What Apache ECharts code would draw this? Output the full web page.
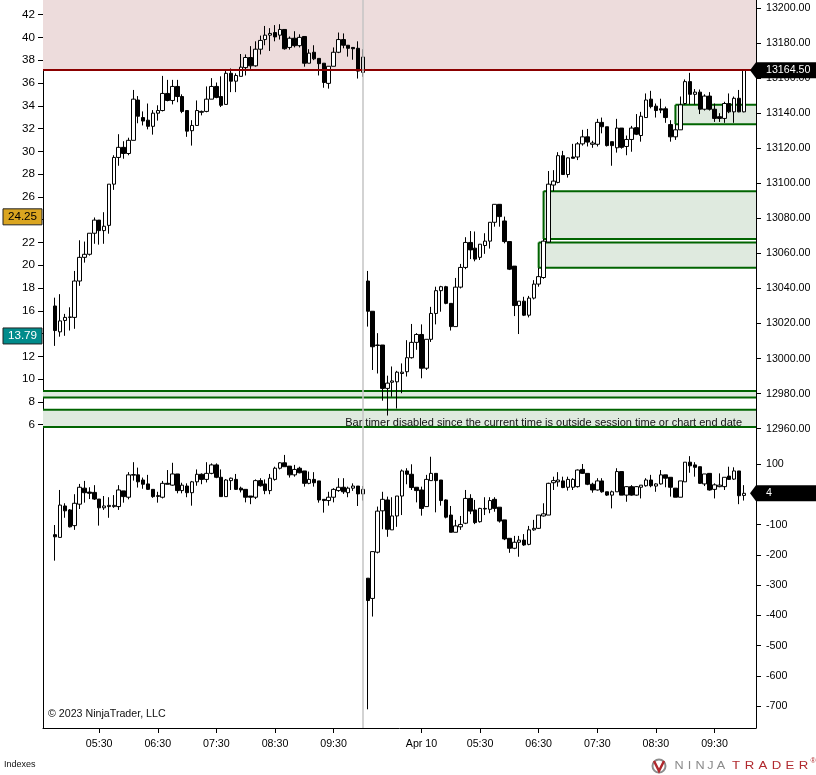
<!DOCTYPE html>
<html><head><meta charset="utf-8">
<script src="https://cdn.jsdelivr.net/npm/echarts@6.0.0/dist/echarts.min.js"></script>
<style>html,body{margin:0;padding:0;background:#fff}#chart{width:816px;height:775px}</style>
</head><body><div id="chart"></div>
<script>
// ---------- sessions (5-minute bars) ----------
const sessions = [
  {date: 'Apr 9', first: '04:45', last: '10:00'},
  {date: 'Apr 10', first: '03:35', last: '10:00'}
];
const xTickCats = ['Apr 9 05:30','Apr 9 06:30','Apr 9 07:30','Apr 9 08:30','Apr 9 09:30',
  'Apr 10 04:30','Apr 10 05:30','Apr 10 06:30','Apr 10 07:30','Apr 10 08:30','Apr 10 09:30'];
const xTickLabels = ['05:30','06:30','07:30','08:30','09:30','Apr 10','05:30','06:30','07:30','08:30','09:30'];
const sessionBreak = 'Apr 9 10:00';

// ---------- axis tick labels ----------
const priceTicks = [12960,12980,13000,13020,13040,13060,13080,13100,13120,13140,13160,13180,13200];
const indicatorTicks = [6,8,10,12,14,16,18,20,22,24,26,28,30,32,34,36,38,40,42];
const tickPanelTicks = [-700,-600,-500,-400,-300,-200,-100,0,100];

// ---------- price bars [open, high, low, close] ----------
const priceBarsApr9 = [
[13030.00,13034.75,13007.25,13016.00],[13015.25,13036.75,13012.50,13021.50],[13021.75,13025.50,13013.00,13023.50],[13023.50,13029.25,13016.00,13023.75],
[13023.50,13050.00,13017.00,13044.25],[13044.25,13067.50,13041.50,13057.75],[13057.75,13066.75,13054.75,13059.50],[13059.50,13071.50,13058.75,13071.50],
[13071.50,13080.50,13065.50,13079.00],[13079.00,13079.00,13065.00,13073.00],[13073.00,13083.50,13065.50,13075.50],[13076.00,13099.50,13071.25,13099.50],
[13099.50,13116.00,13096.25,13114.75],[13114.75,13128.00,13110.00,13120.50],[13120.50,13124.00,13114.00,13117.00],[13117.00,13126.00,13116.00,13124.50],
[13124.50,13153.25,13124.50,13148.00],[13147.50,13149.75,13134.25,13138.25],[13137.50,13141.00,13133.00,13135.50],[13136.00,13145.50,13130.75,13132.50],
[13132.50,13141.75,13127.75,13140.00],[13140.00,13144.50,13135.75,13141.50],[13141.50,13161.25,13141.00,13151.25],[13151.25,13159.00,13146.75,13147.25],
[13147.25,13159.00,13145.00,13155.25],[13155.25,13159.00,13146.25,13149.50],[13149.50,13150.75,13140.00,13141.00],[13141.50,13141.50,13126.50,13129.75],
[13130.00,13136.00,13121.50,13133.00],[13133.00,13147.25,13133.00,13141.50],[13140.50,13141.50,13138.75,13141.00],[13141.00,13155.25,13140.50,13148.00],
[13148.00,13160.00,13148.00,13155.25],[13155.25,13157.50,13148.50,13149.00],[13149.50,13161.00,13143.50,13144.50],[13145.00,13164.50,13145.00,13162.75],
[13162.75,13165.50,13152.00,13158.25],[13158.25,13162.75,13152.00,13161.50],[13161.00,13173.75,13161.00,13166.25],[13166.00,13173.50,13161.50,13171.75],
[13171.75,13178.25,13165.25,13167.00],[13167.00,13181.00,13166.50,13176.50],[13176.50,13184.25,13173.50,13181.50],[13182.00,13189.75,13178.75,13184.50],
[13184.50,13188.50,13175.50,13185.50],[13186.00,13190.25,13181.00,13183.50],[13184.50,13190.75,13182.00,13187.75],[13187.75,13187.75,13176.25,13176.75],
[13177.50,13183.75,13176.25,13182.75],[13182.75,13186.75,13177.50,13178.50],[13178.50,13185.00,13177.50,13183.25],[13183.75,13183.75,13166.50,13168.50],
[13168.50,13176.50,13168.50,13174.25],[13174.75,13178.75,13170.25,13171.00],[13171.25,13171.25,13161.50,13168.25],[13168.50,13168.50,13154.50,13157.50],
[13157.00,13166.75,13154.00,13166.75],[13166.75,13177.50,13166.75,13174.75],[13174.75,13186.00,13174.25,13182.00],[13182.00,13185.50,13177.00,13178.75],
[13178.75,13178.75,13172.25,13177.00],[13177.50,13177.50,13170.50,13176.75],[13177.00,13181.00,13159.75,13164.00],[13163.25,13176.50,13160.75,13172.00]
];
const priceBarsApr10 = [
[13044.25,13050.00,13018.25,13027.00],[13027.00,13027.00,12993.50,13006.75],[13007.50,13014.50,12991.50,13007.75],[13007.75,13007.75,12976.00,12983.00],
[12983.00,12990.25,12967.50,12986.00],[12986.50,12995.50,12978.25,12987.25],[12986.75,12993.00,12971.50,12992.25],[12991.50,12997.25,12980.25,12992.25],
[12992.50,13010.50,12989.75,13000.50],[13000.50,13019.75,13000.00,13009.25],[13009.25,13014.50,13005.00,13013.75],[13013.75,13019.50,12988.75,12994.50],
[12994.50,13011.00,12993.50,13011.00],[13011.00,13029.50,13009.50,13025.75],[13025.75,13041.00,13019.50,13038.75],[13038.75,13041.50,13026.75,13041.00],
[13041.00,13041.50,13031.00,13031.50],[13031.50,13031.50,13016.00,13018.25],[13018.25,13046.00,13018.25,13040.75],[13040.75,13054.00,13040.00,13052.00],
[13052.00,13069.25,13051.00,13066.25],[13066.25,13072.75,13056.75,13062.00],[13063.00,13072.50,13055.50,13056.75],[13057.75,13065.25,13056.25,13065.25],
[13064.50,13071.50,13059.75,13067.00],[13067.00,13077.75,13062.75,13077.75],[13077.75,13088.00,13075.25,13088.00],[13088.00,13088.00,13075.25,13081.00],
[13078.50,13081.00,13065.75,13066.75],[13066.75,13066.75,13050.50,13051.00],[13052.75,13052.75,13024.25,13030.25],[13030.25,13032.75,13014.00,13032.75],
[13032.75,13035.25,13024.25,13024.75],[13024.75,13035.75,13023.50,13034.50],[13034.50,13044.75,13033.75,13042.50],[13042.50,13051.75,13041.00,13046.75],
[13046.25,13068.25,13045.50,13067.00],[13066.50,13107.00,13066.25,13099.50],[13099.00,13107.50,13095.50,13101.25],[13100.50,13117.75,13100.00,13115.75],
[13115.75,13118.50,13104.75,13105.00],[13105.00,13114.75,13103.25,13114.50],[13115.00,13122.50,13114.25,13114.25],[13115.00,13123.50,13113.25,13122.50],
[13122.50,13130.50,13121.50,13126.50],[13126.50,13131.00,13121.00,13123.50],[13122.25,13124.25,13120.25,13123.00],[13122.25,13136.75,13121.00,13134.75],
[13134.75,13137.50,13128.50,13132.25],[13132.25,13132.25,13121.00,13121.50],[13123.75,13123.75,13110.00,13121.50],[13120.25,13136.75,13117.50,13131.50],
[13131.50,13131.50,13119.75,13120.50],[13121.00,13127.25,13116.00,13125.00],[13125.00,13132.75,13118.00,13131.50],[13131.75,13139.50,13127.50,13128.00],
[13127.25,13140.75,13123.75,13138.25],[13137.50,13151.25,13137.50,13147.50],[13148.00,13152.75,13142.75,13143.75],[13144.00,13145.50,13137.50,13141.50],
[13142.50,13148.25,13140.00,13141.75],[13142.50,13143.75,13134.50,13137.50],[13133.50,13136.00,13123.75,13126.50],[13126.50,13133.75,13124.75,13130.50],
[13130.50,13149.50,13130.50,13144.75],[13145.50,13159.25,13144.75,13158.00],[13158.00,13163.00,13145.00,13150.75],[13150.75,13153.75,13145.00,13152.00],
[13152.00,13153.50,13139.50,13142.25],[13142.25,13150.75,13141.50,13149.75],[13149.75,13152.00,13141.50,13142.25],[13142.25,13145.50,13135.00,13137.00],
[13138.00,13140.00,13135.00,13137.00],[13137.00,13146.50,13134.50,13145.50],[13145.50,13151.25,13140.00,13140.75],[13140.75,13149.50,13134.50,13148.50],
[13148.50,13153.25,13140.50,13140.75],[13140.75,13164.50,13140.50,13164.50]
];

// ---------- lower panel bars [open, high, low, close] ----------
const tickBarsApr9 = [
[-133,-101,-219,-140],[-142,15,-142,-35],[-38,-29,-77,-54],[-51,-48,-109,-107],
[-103,1,-117,-29],[-32,35,-48,24],[21,45,-27,6],[8,24,-15,4],
[7,31,-18,-15],[-15,-15,-103,-44],[-44,-5,-51,-38],[-40,-9,-77,-36],
[-40,-2,-44,-36],[-40,31,-51,15],[12,12,-27,-7],[-9,74,-16,65],
[64,107,46,66],[65,89,23,42],[48,56,19,34],[35,65,15,17],
[17,17,-11,-7],[-4,9,-27,-6],[-9,45,-13,37],[37,81,34,34],
[31,105,29,68],[68,68,4,13],[13,39,4,31],[28,37,-9,6],
[6,45,-37,42],[42,83,29,67],[67,70,34,50],[50,107,40,70],
[70,103,67,98],[98,103,54,57],[57,83,-7,-7],[-7,51,-7,48],
[46,56,15,54],[50,68,15,17],[21,26,7,15],[17,17,-26,-9],
[-5,-5,-32,-9],[-9,50,-15,46],[46,54,26,29],[35,50,1,13],
[13,68,1,54],[50,92,46,87],[87,107,83,105],[105,131,92,92],
[94,94,56,65],[65,98,59,83],[87,92,70,72],[78,78,26,37],
[37,76,34,50],[50,74,26,39],[45,45,-27,-18],[-16,-16,-60,-20],
[-20,9,-37,-9],[-9,21,-26,17],[13,54,9,24],[24,54,2,9],
[6,26,-9,21],[21,37,12,28],[28,28,-38,2],[2,28,-20,17]
];
const tickBarsApr10 = [
[-277,-277,-711,-351],[-344,-189,-404,-189],[-191,-40,-195,-55],[-54,9,-115,-16],
[-18,-7,-140,-115],[-117,-9,-117,-71],[-71,-5,-107,-5],[-5,83,-68,78],
[78,87,34,67],[67,100,15,23],[24,24,-26,13],[15,26,-70,-46],
[-40,65,-40,50],[46,125,46,70],[70,70,-59,46],[48,48,-37,-20],
[-18,-16,-79,-75],[-68,-38,-125,-125],[-125,-84,-125,-104],[-107,-71,-117,-99],
[-95,15,-98,-13],[-13,1,-65,-55],[-51,-18,-98,-93],[-90,-44,-93,-46],
[-46,-9,-68,-48],[-49,-9,-62,-20],[-16,-9,-57,-46],[-42,-42,-93,-88],
[-84,-84,-151,-147],[-145,-145,-193,-178],[-178,-137,-181,-158],[-158,-137,-206,-151],
[-151,-131,-170,-167],[-165,-104,-168,-117],[-117,-84,-120,-112],[-112,-68,-114,-68],
[-71,-29,-73,-64],[-68,39,-68,37],[39,59,15,46],[42,74,26,48],
[45,59,21,23],[24,59,13,50],[24,54,15,50],[26,83,23,81],
[83,101,68,70],[70,70,31,34],[34,39,6,15],[15,54,13,45],
[45,54,6,9],[9,9,-5,-2],[-2,13,-46,9],[9,87,9,76],
[76,76,-2,-2],[-2,28,-24,26],[26,31,-4,-2],[-2,28,-4,26],
[24,31,-13,31],[29,54,26,48],[48,65,24,29],[28,37,9,35],
[35,81,33,65],[65,65,24,54],[57,57,-7,24],[21,21,-9,-9],
[-9,45,-9,45],[42,107,42,107],[107,127,72,95],[98,107,59,90],
[92,92,35,37],[35,68,28,68],[70,70,13,15],[17,37,-13,32],
[26,70,24,31],[26,57,15,57],[61,92,48,50],[51,90,48,78],
[78,78,-32,-4],[-3,31,-20,4]
];

const lastPrice = 13164.50;
const lastTick = 4;
const indicatorFlags = [24.25, 13.79];
const indicatorFlagColors = ['#daa520', '#008b8b'];
const indicatorFlagText = ['#000000', '#ffffff'];

// ---------- zones ----------
const zoneStart = [null, null, 'Apr 10 06:30', 'Apr 10 06:35', 'Apr 10 08:50'];
const zoneLow   = [12977.75, 12961.00, 13051.75, 13068.25, 13133.75];
const zoneHigh  = [12981.50, 12970.75, 13066.25, 13095.50, 13144.75];

// ---------- build ----------
function toMin(t){const p=t.split(':').map(Number);return p[0]*60+p[1];}
function fmt(m){return String(Math.floor(m/60)).padStart(2,'0')+':'+String(m%60).padStart(2,'0');}
const barTimes=[];
sessions.forEach(s=>{for(let m=toMin(s.first);m<=toMin(s.last);m+=5) barTimes.push(s.date+' '+fmt(m));});
const PAD = 2;
const categories = ['_a','_b'].concat(barTimes, ['_c','_d']);
const empty = ['-','-','-','-'];
function toCandle(r){return [r[0], r[3], r[2], r[1]];}
const priceData = [empty, empty].concat(priceBarsApr9.concat(priceBarsApr10).map(toCandle), [empty, empty]);
const tickData = [empty, empty].concat(tickBarsApr9.concat(tickBarsApr10).map(toCandle), [empty, empty]);
const tickMap = {}; xTickCats.forEach((c,i)=>tickMap[c]=xTickLabels[i]);
const showTick = (idx, val) => tickMap[val] !== undefined;

const zoneData = zoneStart.map((s,k)=>[s===null?PAD:categories.indexOf(s), zoneLow[k], zoneHigh[k], s===null?0:1]);

const FONT = '"Liberation Sans", Arial, sans-serif';
const FS = 10.67;
const W = 816, GL = 43, GR = 60;
const topH = 433, botTop = 433, botH = 295;
const priceMin = 12957.55, priceMax = 13204.56;
const indMin = 5.27, indMax = 43.29;
const tickMin = -772.9, tickMax = 203.6;

const candleStyle = {color:'#ffffff', color0:'#000000', borderColor:'#000000', borderColor0:'#000000', borderWidth:1};

const chart = echarts.init(document.getElementById('chart'), null, {renderer:'canvas'});
const option = {
  animation: false,
  backgroundColor: '#ffffff',
  textStyle: {fontFamily: FONT},
  grid: [
    {left: GL, right: GR, top: 0, height: topH, containLabel: false, outerBoundsMode: 'none'},
    {left: GL, right: GR, top: botTop, height: botH, containLabel: false, outerBoundsMode: 'none'}
  ],
  xAxis: [
    {type:'category', gridIndex:0, data: categories, boundaryGap: true,
     axisLine:{show:false}, axisTick:{show:false}, axisLabel:{show:false}, splitLine:{show:false}},
    {type:'category', gridIndex:1, data: categories, boundaryGap: true, position:'bottom',
     axisLine:{show:true, onZero:false, lineStyle:{color:'#000', width:1}},
     axisTick:{show:true, interval: showTick, alignWithLabel: true, length:5, lineStyle:{color:'#000'}},
     axisLabel:{show:true, interval: showTick, formatter: v => tickMap[v] || '', color:'#000', fontSize: FS, fontFamily: FONT, margin: 11},
     splitLine:{show:false}}
  ],
  yAxis: [
    {type:'value', gridIndex:0, position:'right', min: priceMin, max: priceMax,
     axisLine:{show:true, lineStyle:{color:'#000'}},
     axisTick:{show:true, length:5, customValues: priceTicks, lineStyle:{color:'#000'}},
     axisLabel:{show:true, customValues: priceTicks, formatter: v => Number(v).toFixed(2), color:'#000', fontSize: FS, fontFamily: FONT, margin: 10},
     splitLine:{show:false}},
    {type:'value', gridIndex:0, position:'left', min: indMin, max: indMax,
     axisLine:{show:true, lineStyle:{color:'#000'}},
     axisTick:{show:true, length:5, customValues: indicatorTicks, lineStyle:{color:'#000'}},
     axisLabel:{show:true, customValues: indicatorTicks, formatter: v => String(Math.round(v)), color:'#000', fontSize: FS+1, fontFamily: FONT, margin: 8},
     splitLine:{show:false}},
    {type:'value', gridIndex:1, position:'right', min: tickMin, max: tickMax,
     axisLine:{show:true, lineStyle:{color:'#000'}},
     axisTick:{show:true, length:5, customValues: tickPanelTicks, lineStyle:{color:'#000'}},
     axisLabel:{show:true, customValues: tickPanelTicks, formatter: v => String(Math.round(v)), color:'#000', fontSize: FS, fontFamily: FONT, margin: 10},
     splitLine:{show:false}},
    {type:'value', gridIndex:1, position:'left', min:0, max:1,
     axisLine:{show:true, lineStyle:{color:'#000'}},
     axisTick:{show:false}, axisLabel:{show:false}, splitLine:{show:false}}
  ],
  series: [
    {
      type:'custom', name:'zones', xAxisIndex:0, yAxisIndex:0, z:1, clip:true, silent:true,
      data: zoneData,
      encode:{x:0, y:[1,2]},
      renderItem: function(params, api){
        const cs = params.coordSys;
        const s = api.value(0), lo = api.value(1), hi = api.value(2), edge = api.value(3);
        const yT = api.coord([s, hi])[1], yB = api.coord([s, lo])[1];
        const x0 = edge ? api.coord([s, lo])[0] : cs.x;
        const x1 = cs.x + cs.width;
        const ls = {stroke:'#006400', lineWidth:2};
        const ch = [
          {type:'rect', shape:{x:x0, y:yT, width:x1-x0, height:yB-yT}, style:{fill:'#dfeadf'}},
          {type:'line', shape:{x1:x0, y1:yT, x2:x1, y2:yT}, style:ls},
          {type:'line', shape:{x1:x0, y1:yB, x2:x1, y2:yB}, style:ls}
        ];
        if (edge) ch.push({type:'line', shape:{x1:x0, y1:yT, x2:x0, y2:yB}, style:ls});
        return {type:'group', children: ch};
      },
      markArea: {silent:true, itemStyle:{color:'#eddcdc'},
        data: [[{yAxis: lastPrice}, {yAxis: priceMax}]]}
    },
    {
      type:'candlestick', name:'price', xAxisIndex:0, yAxisIndex:0, z:3,
      barWidth: 4, data: priceData, itemStyle: candleStyle, silent:true,
      markLine: {silent:true, symbol:['none','none'], label:{show:false}, animation:false,
        data: [
          {yAxis: lastPrice, lineStyle:{color:'#8b0000', width:2, type:'solid'}},
          {xAxis: sessionBreak, lineStyle:{color:'#c4c4c4', width:1.5, type:'solid'}}
        ]}
    },
    {
      type:'candlestick', name:'tick', xAxisIndex:1, yAxisIndex:2, z:3,
      barWidth: 4, data: tickData, itemStyle: candleStyle, silent:true,
      markLine: {silent:true, symbol:['none','none'], label:{show:false}, animation:false,
        data: [
          {xAxis: sessionBreak, lineStyle:{color:'#c4c4c4', width:1.5, type:'solid'}}
        ]}
    }
  ]
};
chart.setOption(option);

// ---------- annotations placed through the axes ----------
const xR = W - GR;
const yLast = chart.convertToPixel({yAxisIndex:0}, lastPrice);
const yTick = chart.convertToPixel({yAxisIndex:2}, lastTick);
const g = [];
function flag(y, txt){
  g.push({type:'polygon', z:100, shape:{points:[[xR-6,y],[xR,y-8],[W,y-8],[W,y+8],[xR,y+8]]}, style:{fill:'#000'}});
  g.push({type:'text', z:101, x:xR+10, y:y, style:{text:txt, fill:'#fff', font: FS+'px '+FONT, verticalAlign:'middle', align:'left'}});
}
flag(yLast, lastPrice.toFixed(2));
flag(yTick, String(lastTick));
indicatorFlags.forEach((v,k)=>{
  const y = chart.convertToPixel({yAxisIndex:1}, v);
  g.push({type:'rect', z:100, shape:{x:3, y:y-8, width:39, height:16}, style:{fill:indicatorFlagColors[k], stroke:'#222', lineWidth:1}});
  g.push({type:'text', z:101, x:22.5, y:y, style:{text:v.toFixed(2), fill:indicatorFlagText[k], font:(FS+1)+'px '+FONT, align:'center', verticalAlign:'middle'}});
});
const botInfoY = chart.convertToPixel({yAxisIndex:0}, zoneLow[1]);
g.push({type:'text', z:50, x:xR-14, y:botInfoY-4, style:{text:'Bar timer disabled since the current time is outside session time or chart end date', fill:'#111', font:'11px '+FONT, align:'right', verticalAlign:'middle'}});
g.push({type:'text', z:50, x:GL+5, y:botTop+botH-14, style:{text:'\u00A9 2023 NinjaTrader, LLC', fill:'#111', font:FS+'px '+FONT, align:'left', verticalAlign:'middle'}});
g.push({type:'text', z:50, x:4, y:765, style:{text:'Indexes', fill:'#111', font:'9px '+FONT, align:'left', verticalAlign:'middle'}});
// logo
g.push({type:'circle', z:50, shape:{cx:659, cy:766, r:6.5}, style:{fill:'none', stroke:'#8c8c8c', lineWidth:2}});
g.push({type:'polyline', z:51, shape:{points:[[654,761],[659,771],[664,761]]}, style:{stroke:'#b0292e', lineWidth:2.5, fill:'none'}});
'NINJA'.split('').forEach((c,k)=>g.push({type:'text', z:50, x:679+k*10.5, y:766, scaleX:1.15, style:{text:c, fill:'#8a8a8a', font:'11px '+FONT, align:'center', verticalAlign:'middle'}}));
'TRADER'.split('').forEach((c,k)=>g.push({type:'text', z:50, x:736+k*13.5, y:766, scaleX:1.2, style:{text:c, fill:'#b0292e', font:'11px '+FONT, align:'center', verticalAlign:'middle'}}));
g.push({type:'text', z:50, x:813, y:761, style:{text:'\u00AE', fill:'#b0292e', font:'7px '+FONT, align:'center', verticalAlign:'middle'}});
chart.setOption({graphic: g});
</script>
</body></html>
